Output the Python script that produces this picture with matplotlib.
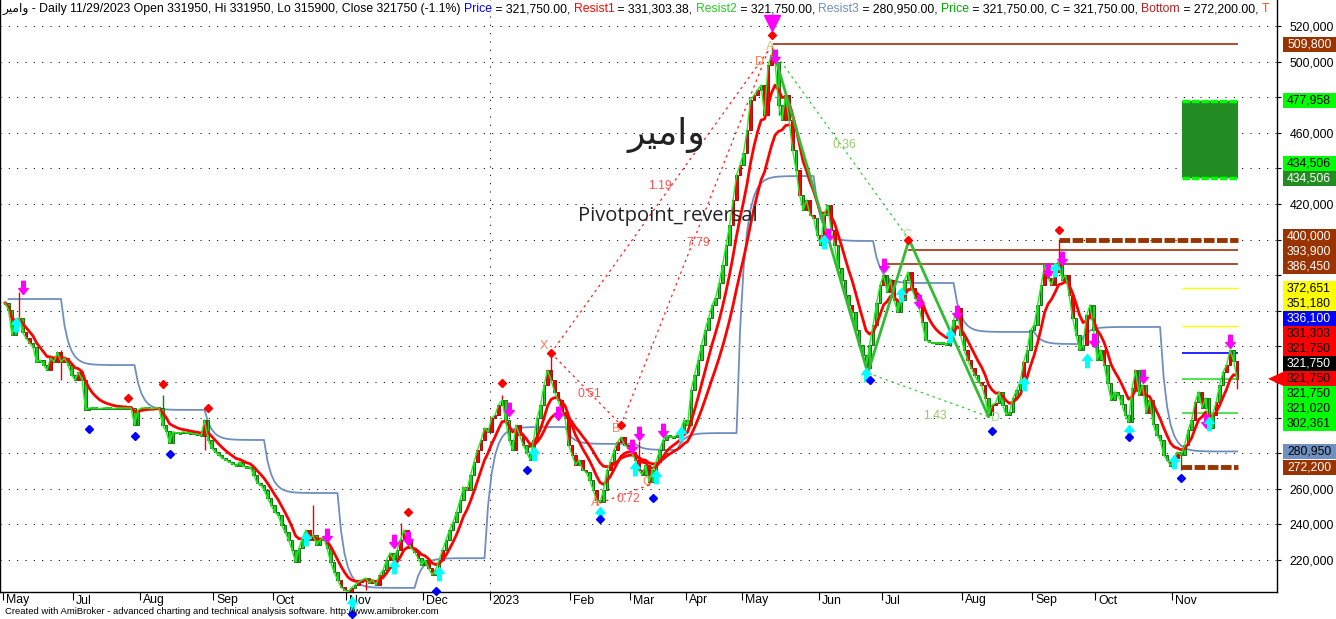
import numpy as np
import pandas as pd
import matplotlib
matplotlib.use("Agg")
import matplotlib.pyplot as plt
import matplotlib.transforms as mtransforms
from matplotlib.path import Path
from matplotlib.patches import Rectangle, Polygon

plt.rcParams['font.family'] = ['Liberation Sans', 'DejaVu Sans']

# ---------------- data (prices in thousands of rials) ----------------
close_k = [
    364.4, 360.5, 346.4, 353.7, 356.0, 348.0, 344.7, 341.9, 339.6, 331.2,
    332.4, 329.5, 326.7, 333.5, 331.2, 336.9, 331.2, 333.5, 329.5, 323.9,
    321.1, 325.6, 321.1, 304.3, 305.4, 305.4, 305.4, 305.0, 305.4, 305.4,
    305.4, 305.0, 305.4, 305.4, 305.4, 305.4, 305.4, 295.8, 304.3, 305.4,
    305.4, 305.4, 305.0, 305.4, 305.4, 295.8, 292.5, 285.7, 292.0, 291.4,
    291.4, 292.0, 291.4, 291.4, 290.8, 290.8, 289.7, 298.7, 287.4, 283.0,
    280.7, 279.0, 277.3, 276.2, 275.1, 274.0, 272.8, 275.1, 272.8, 271.7,
    272.3, 267.8, 263.3, 262.1, 259.3, 254.8, 250.9, 247.0, 245.3, 239.7,
    235.7, 231.2, 225.6, 218.9, 226.7, 232.4, 236.9, 231.2, 234.0, 228.4,
    231.2, 232.4, 226.7, 218.9, 213.3, 208.8, 204.8, 203.1, 202.0, 204.3,
    206.0, 207.6, 208.8, 209.9, 207.1, 208.8, 206.0, 211.6, 214.4, 220.0,
    224.0, 220.0, 225.6, 231.2, 236.9, 231.2, 226.7, 224.5, 221.1, 217.2,
    220.0, 215.5, 211.6, 214.4, 220.0, 225.6, 231.2, 236.9, 241.3, 247.0,
    253.7, 261.0, 259.3, 267.8, 275.1, 281.8, 287.4, 294.2, 291.9, 299.8,
    301.4, 307.1, 309.9, 298.7, 287.4, 281.8, 295.8, 290.2, 284.6, 280.7,
    276.2, 287.4, 299.8, 307.1, 318.3, 326.7, 321.1, 314.4, 309.9, 303.1,
    299.8, 284.6, 279.0, 273.4, 276.2, 270.6, 269.4, 265.0, 259.3, 253.7,
    252.6, 259.3, 270.6, 275.1, 281.8, 286.3, 289.1, 284.6, 283.0, 280.7,
    276.2, 270.6, 267.8, 273.4, 263.9, 270.6, 275.1, 281.8, 287.4, 290.2,
    289.1, 289.1, 290.2, 293.0, 298.7, 295.8, 315.5, 324.0, 332.4, 340.8,
    349.2, 355.9, 363.2, 367.2, 375.6, 385.7, 397.0, 408.2, 422.2, 436.3,
    441.9, 448.7, 461.6, 478.4, 481.2, 484.0, 486.8, 470.0, 498.1, 503.7,
    499.8, 475.6, 467.2, 481.2, 467.2, 450.3, 439.1, 425.1, 416.6, 422.2,
    413.8, 412.1, 402.6, 397.0, 413.8, 419.4, 405.4, 397.0, 384.0, 377.3,
    368.9, 363.3, 359.3, 349.2, 340.8, 335.2, 327.9, 340.8, 352.0, 364.4,
    374.5, 380.1, 370.6, 377.3, 366.1, 359.3, 366.1, 377.3, 381.8, 372.8,
    367.2, 363.3, 353.7, 343.6, 342.5, 341.9, 341.9, 341.9, 341.9, 340.8,
    346.4, 354.8, 361.6, 346.4, 338.0, 332.4, 327.9, 323.9, 320.0, 318.3,
    311.0, 301.5, 307.1, 308.2, 314.4, 307.1, 301.5, 303.2, 311.0, 315.5,
    320.0, 331.2, 338.0, 349.2, 352.0, 363.3, 374.5, 385.7, 378.4, 374.5,
    381.8, 387.4, 377.3, 380.1, 368.9, 355.9, 346.4, 338.0, 340.8, 357.6,
    363.3, 349.2, 332.4, 338.0, 329.5, 319.4, 309.9, 314.4, 312.7, 307.7,
    301.5, 297.5, 316.6, 326.7, 312.7, 318.3, 302.6, 309.9, 296.4, 290.2,
    287.4, 279.0, 276.2, 272.8, 277.3, 280.7, 279.0, 284.6, 293.0, 298.7,
    308.8, 314.4, 305.4, 311.0, 294.2, 301.5, 308.8, 318.3, 325.6, 329.5,
    338.0, 331.9, 321.75,
]
candle_colors = (
    "ggggrgrrgg" "gggrrrrrgg" "grgggggggg" "gggggggggg" "gggggggggg"
    "gggggggrgg" "gggggggggg" "gggggggggg" "ggggggrrrg" "ggggggrrgr"
    "grrrgrgrgg" "rggrrrrrrg" "grrggrgggg" "ggrggrrrgr" "rrrgggrrrg"
    "gggggrrrrr" "rrrrgrrggr" "rggrgrrrrr" "rrrgrggggg" "gggggggggg"
    "ggggggggrr" "rgrrrrgrrr" "rggrrrgrgr" "rrgrrgrrgg" "ggrggggggg"
    "grgrrggggr" "rgrggggggg" "gggrgrrrgr" "rgrrgggggg" "grgggggrgr"
    "rrgrrrgggr" "rgggrggggg" "gggrgrgrgg" "gggrgrgggg" "rgrgggrggr"
    "rgr"
)
wick_high_k = {4: 370.6, 16: 338.0, 23: 315.5, 45: 312.7, 88: 250.9, 113: 240.8,
               142: 312.7, 156: 336.0, 181: 287.0, 219: 509.3, 301: 399.8, 352: 331.95}
wick_low_k = {16: 321.0, 57: 281.8, 98: 198.0, 103: 203.0, 169: 250.9, 184: 262.1,
              221: 470.0, 336: 270.6, 352: 315.9}

month_bar = [0, 20, 39, 60, 77, 98, 120, 139, 162, 179, 195, 211, 233, 251, 274, 294, 312, 334]
month_labels = ['May', 'Jul', 'Aug', 'Sep', 'Oct', 'Nov', 'Dec', '2023', 'Feb', 'Mar',
                'Apr', 'May', 'Jun', 'Jul', 'Aug', 'Sep', 'Oct', 'Nov']
year_bar = 139

resist3_start = [1, 17, 38, 58, 75, 96, 118, 138, 161, 181, 193, 210, 232, 249, 272, 295, 308, 331]
resist3_k = [366.6, 329.5, 304.3, 287.4, 257.6, 204.3, 221.0, 294.7, 285.2, 281.8, 291.3,
             435.7, 399.2, 375.6, 348.1, 341.3, 350.9, 280.95]

pivot_high_bar = [35, 45, 58, 115, 142, 156, 176, 219, 258, 301]
pivot_high_k = [311.2, 318.9, 305.4, 247.0, 319.6, 336.3, 295.8, 514.9, 399.8, 405.4]
pivot_low_bar = [24, 37, 47, 99, 123, 149, 170, 185, 247, 282, 321, 336]
pivot_low_k = [293.6, 289.8, 279.7, 189.7, 202.6, 270.6, 243.0, 254.8, 321.1, 292.5, 289.0, 266.0]

sell_bar = [5, 92, 111, 115, 144, 158, 179, 181, 188, 220, 235, 251, 261, 272, 298, 302, 311, 325, 343, 350]
sell_k = [369.4, 230.1, 226.7, 228.4, 301.0, 298.7, 280.0, 287.4, 289.0, 499.2, 398.7, 381.8,
          361.6, 355.4, 379.0, 385.7, 339.7, 319.4, 294.2, 339.1]
buy_bar = [3, 86, 99, 111, 124, 151, 170, 180, 186, 193, 234, 246, 256, 270, 291, 300, 309, 321, 334, 344]
buy_k = [356.0, 235.7, 199.2, 220.0, 216.1, 283.5, 249.8, 275.0, 270.6, 294.7, 402.6, 327.9,
         372.8, 349.8, 322.8, 386.9, 335.7, 295.8, 279.0, 300.3]
top_signal_bar = 219
top_signal_k = 521.5

xabcd_names = ['X', 'A', 'B', 'C', 'D']
xabcd_bar = [156, 170, 176, 184, 218]
xabcd_k = [336.3, 252.0, 295.8, 262.1, 506.0]
xabcd_ratio = ['0.51', '0.72', '7.79', '1.19']
xabcd_ratio_pair = [(0, 2), (1, 3), (2, 4), (0, 4)]

abcd_names = ['A', 'B', 'C', 'D']
abcd_bar = [219.5, 246.5, 258.3, 281.0]
abcd_k = [506.0, 325.0, 400.0, 300.5]
abcd_ratio = ['0.36', '1.43']
abcd_ratio_pair = [(0, 2), (1, 3)]

level_values = [509800, 400000, 393900, 386450, 372651, 351180, 336100, 321750, 302361, 272200]
level_start_bar = [219.5, 301, 258, 251, 336.3, 336.3, 336.3, 336.3, 336.3, 336.0]
zone_low, zone_high = 434506, 477958
zone_start_bar = 336.3
last_bar = 352.3

label_values = [509800, 477958, 434506, 434506, 400000, 393900, 386450, 372651, 351180,
                336100, 331303, 321750, 321750, 321750, 321750, 321020, 302361, 280950, 272200]

symbol = "\uFEAE\uFEF4\uFEE3\uFE8D\uFEED"  # visual form of the symbol name
header_parts = [
    (symbol + " - Daily 11/29/2023 Open 331950, Hi 331950, Lo 315900, Close 321750 (-1.1%) ", 'black'),
    ("Price", '#0000FF'), (" = 321,750.00, ", 'black'),
    ("Resist1", '#FF0000'), (" = 331,303.38, ", 'black'),
    ("Resist2", '#22CC22'), (" = 321,750.00, ", 'black'),
    ("Resist3", '#6F8FC0'), (" = 280,950.00, ", 'black'),
    ("Price", '#00AA00'), (" = 321,750.00, C = 321,750.00, ", 'black'),
    ("Bottom", '#B22222'), (" = 272,200.00, ", 'black'),
    ("T", '#FF5000'),
]

# ---------------- styles ----------------
level_colors = ['#A0300A', '#993300', '#A0300A', '#A0300A', '#FFFF00', '#FFFF00',
                '#0000FF', '#33DD33', '#33DD33', '#993300']
level_widths = [1.2, 3.5, 1.2, 1.2, 1.0, 1.0, 1.2, 1.2, 1.2, 3.5]
level_dashed = [False, True, False, False, False, False, False, False, False, True]
label_bg = ['#993300', '#00FF00', '#00FF00', '#228B22', '#993300', '#993300', '#993300',
            '#FFFF00', '#FFFF00', '#0000FF', '#FF0000', '#FF0000', '#000000', '#FF0000',
            '#00FF00', '#00FF00', '#00FF00', '#7090C0', '#993300']
label_fg = ['white', 'black', 'black', 'white', 'white', 'white', 'white', 'black', 'black',
            'white', 'black', 'black', 'white', 'black', 'black', 'black', 'black', 'black', 'white']
price_label = 13
anchored = {3, 13}
ratio_shift = [(1, -3000), (1, -3000), (1, -3000), (0, 9000)]

W, H = 1336, 619
AX_W, AX_H, AX_B = 1277, 592, 27
FS = 8.8

fig = plt.figure(figsize=(W / 100, H / 100), dpi=100)
ax = fig.add_axes([0, AX_B / H, AX_W / W, AX_H / H])
ymin, ymax = 202000, 534600
ax.set_xlim(-1.43, 363.4)
ax.set_ylim(ymin, ymax)
per_px = (ymax - ymin) / AX_H

n = len(close_k)
idx = np.arange(n)
c = np.array(close_k) * 1000
o = np.r_[c[0], c[:-1]]
hi = np.maximum(o, c)
lo = np.minimum(o, c)
for k, v in wick_high_k.items():
    hi[k] = max(hi[k], v * 1000)
for k, v in wick_low_k.items():
    lo[k] = min(lo[k], v * 1000)
is_green = np.array([ch == 'g' for ch in candle_colors])

# grid
for v in range(220000, 540000, 20000):
    ax.axhline(v, color='black', lw=0.75, ls=(0, (1, 7)), zorder=0)
ax.axvline(year_bar - 0.5, color='black', lw=0.75, ls=(0, (1, 7)), zorder=0)

# resist3 step line
r3 = np.full(n, np.nan)
for k, s in enumerate(resist3_start):
    e = resist3_start[k + 1] if k + 1 < len(resist3_start) else n
    r3[s:e] = resist3_k[k] * 1000
r3 = pd.Series(r3).ewm(span=4, ignore_na=True).mean().where(~np.isnan(r3))
ax.plot(idx, r3, color='#6E8EC0', lw=1.3, zorder=1)

# candles
wick_col = np.where(is_green, '#008800', '#EE0000')
ax.vlines(idx, lo, hi, colors=wick_col, lw=1, zorder=2)
body = np.abs(c - o)
bh = np.maximum(body, 800)
bottom = np.minimum(o, c) - (bh - body) / 2
ax.bar(idx, bh, bottom=bottom, width=0.72, color=np.where(is_green, '#22CC22', '#FF0000'),
       edgecolor=np.where(is_green, '#006600', '#990000'), linewidth=0.6, zorder=3)

# indicator lines
cs = pd.Series(c)
ax.plot(idx, cs.ewm(span=7).mean(), color='#FF0000', lw=2, zorder=4)
slow = cs.ewm(span=15).mean()
seg = (idx >= 150) & (idx <= 224)
ax.plot(idx[seg], slow[seg], color='#FF0000', lw=2, zorder=4)
ax.plot(idx, c, color='#22EE22', lw=1, zorder=4)

# horizontal levels and zone
for v, s, col, lw_, dsh in zip(level_values, level_start_bar, level_colors, level_widths, level_dashed):
    ax.hlines(v, s, last_bar, colors=col, lw=lw_, linestyles=(0, (2.2, 0.5)) if dsh else '-', zorder=2)
ax.add_patch(Rectangle((zone_start_bar, zone_low), last_bar - zone_start_bar, zone_high - zone_low,
                       fc='#228B22', ec='none', zorder=2))
ax.hlines([zone_low, zone_high], zone_start_bar, last_bar, colors='#00FF00', lw=2.5,
          linestyles=(0, (2.2, 0.5)), zorder=3)

# XABCD pattern
xb = np.array(xabcd_bar, float)
xv = np.array(xabcd_k) * 1000
for (a, b), txt, (dx, dy) in zip(xabcd_ratio_pair, xabcd_ratio, ratio_shift):
    ax.plot([xb[a], xb[b]], [xv[a], xv[b]], color='#FF2020', lw=0.9, ls=(0, (2, 3)), zorder=5)
    ax.text((xb[a] + xb[b]) / 2 + dx, (xv[a] + xv[b]) / 2 + dy, txt, color='#FF5050', fontsize=FS,
            ha='center', va='center', zorder=5)
name_off = [(-2, 4000), (-1.5, 0), (-1.5, -2000), (-0.5, 1500), (-2.5, -6000)]
for nm, b, v, (dx, dy) in zip(xabcd_names, xb, xv, name_off):
    ax.text(b + dx, v + dy, nm, color='#FF7F50', fontsize=9, ha='center', va='center', zorder=6)

# ABCD pattern
gb = np.array(abcd_bar, float)
gv = np.array(abcd_k) * 1000
ax.plot(gb, gv, color='#33BB33', lw=2, zorder=5)
for (a, b), txt in zip(abcd_ratio_pair, abcd_ratio):
    ax.plot([gb[a], gb[b]], [gv[a], gv[b]], color='#33CC33', lw=0.9, ls=(0, (2, 3)), zorder=5)
ax.text((gb[0] + gb[2]) / 2 + 1, (gv[0] + gv[2]) / 2, abcd_ratio[0], color='#99CC66',
        fontsize=FS, ha='center', va='center', zorder=6)
ax.text((gb[1] + gb[3]) / 2 + 2, (gv[1] + gv[3]) / 2 - 12000, abcd_ratio[1], color='#99CC66',
        fontsize=FS, ha='center', va='center', zorder=6)
gcols = ['#C8C878', '#EEE8AA', '#B8D8A0', '#A8D890']
goff = [(-1, 2000), (-1, -4000), (-0.5, 2500), (2, -1000)]
for nm, b, v, col, (dx, dy) in zip(abcd_names, gb, gv, gcols, goff):
    ax.text(b + dx, v + dy, nm, color=col, fontsize=9, ha='center', va='center', zorder=6)

# signal markers
down_arrow = Path([(0, 0), (-0.36, 0.45), (-0.14, 0.45), (-0.14, 1), (0.14, 1),
                   (0.14, 0.45), (0.36, 0.45), (0, 0)])
up_arrow = Path(np.array(down_arrow.vertices) * [1, -1])
ax.plot(sell_bar, np.array(sell_k) * 1000, ls='none', marker=down_arrow, ms=19,
        color='#FF00FF', mec='#FF00FF', zorder=7, clip_on=False)
ax.plot(buy_bar, np.array(buy_k) * 1000, ls='none', marker=up_arrow, ms=19,
        color='#00FFFF', mec='#00FFFF', zorder=7, clip_on=False)
ax.plot(pivot_high_bar, np.array(pivot_high_k) * 1000, ls='none', marker='D', ms=4.5,
        color='#FF0000', zorder=7)
ax.plot(pivot_low_bar, np.array(pivot_low_k) * 1000, ls='none', marker='D', ms=4.5,
        color='#0000FF', zorder=7, clip_on=False)
ax.plot(top_signal_bar, top_signal_k * 1000, ls='none', marker='v', ms=12,
        color='#FF00FF', zorder=7, clip_on=False)

# titles in the chart
ax.text(189, 458800, symbol, family='DejaVu Sans', fontsize=26, color='#222222',
        ha='center', va='center', zorder=6)
ax.text(189.5, 413300, "Pivotpoint_reversal", family='Open Sans', fontsize=14.5, color='#222222',
        ha='center', va='center', zorder=6)

# right side value labels (stacked so they do not overlap)
h = 15 * per_px
pos = np.array(label_values, float)
for _ in range(400):
    for k in range(len(pos) - 1):
        gap = pos[k] - pos[k + 1]
        if gap < h:
            d = h - gap
            if k in anchored:
                pos[k + 1] -= d
            elif k + 1 in anchored:
                pos[k] += d
            else:
                pos[k] += d / 2
                pos[k + 1] -= d / 2

# axes styling
ax.spines['top'].set_visible(False)
for sp in ['left', 'right', 'bottom']:
    ax.spines[sp].set_color('black')
    ax.spines[sp].set_linewidth(1)
ax.yaxis.tick_right()
yticks = list(range(220000, 540000, 20000))
ax.set_yticks(yticks)
half_txt = 5 * per_px
ylabels = []
for v in yticks:
    covered = any(abs(v - p) < h / 2 + half_txt for p in pos)
    ylabels.append('' if covered else f"{v:,}")
ax.set_yticklabels(ylabels)
ax.tick_params(axis='y', direction='out', length=3, pad=6, labelsize=FS)
ax.set_xticks([m - 0.5 for m in month_bar])
ax.tick_params(axis='x', direction='out', length=6, labelbottom=False)
xt = mtransforms.blended_transform_factory(ax.transData, ax.transAxes)
for m, lab in zip(month_bar, month_labels):
    ax.text(m + 0.3, -8.5 / AX_H, lab, transform=xt, fontsize=FS, ha='left', va='center')

yt = mtransforms.blended_transform_factory(ax.transAxes, ax.transData)
x0, x1 = 1283 / AX_W, 1336 / AX_W
for k, (v, p) in enumerate(zip(label_values, pos)):
    ax.add_patch(Rectangle((x0, p - h / 2), x1 - x0, h, transform=yt, fc=label_bg[k],
                           ec='none', clip_on=False, zorder=8))
    ax.text(1287 / AX_W, p, f"{v:,}", transform=yt, color=label_fg[k], fontsize=FS,
            ha='left', va='center', zorder=9, clip_on=False)
    if k == price_label:
        ax.add_patch(Polygon([(1268 / AX_W, p), (x0 + 0.001, p + h / 2), (x0 + 0.001, p - h / 2)],
                             closed=True, transform=yt, fc=label_bg[k], ec='none',
                             clip_on=False, zorder=8))

# header
prev = ax.text(2 / AX_W, 1 - 9 / AX_H, header_parts[0][0], transform=ax.transAxes,
               color=header_parts[0][1], fontsize=FS, ha='left', va='center', zorder=9)
for txt, col in header_parts[1:]:
    prev = ax.annotate(txt, xy=(1, 0), xycoords=prev, ha='left', va='bottom',
                       color=col, fontsize=FS, zorder=9, annotation_clip=False)

fig.text(5 / W, 1 - 612 / H,
         "Created with AmiBroker - advanced charting and technical analysis software. http://www.amibroker.com",
         fontsize=6.8, ha='left', va='center')

fig.savefig("out.png", dpi=100)
